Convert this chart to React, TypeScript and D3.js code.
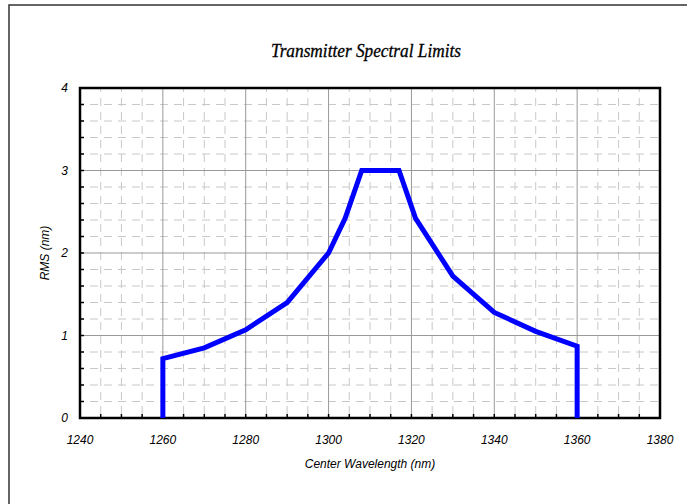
import React, { useRef, useEffect } from "react";
import { select, scaleLinear, line, range } from "d3";

// data
const wavelengths = [1260, 1260, 1270, 1280, 1290, 1300, 1304, 1308, 1317, 1321, 1330, 1340, 1350, 1360, 1360];
const rmsValues = [0, 0.72, 0.85, 1.07, 1.4, 2.0, 2.42, 3.0, 3.0, 2.42, 1.72, 1.28, 1.05, 0.87, 0];
const xTicks = [1240, 1260, 1280, 1300, 1320, 1340, 1360, 1380];
const yTicks = [0, 1, 2, 3, 4];

const W = 687;
const H = 504;
const margin = { top: 88, right: 27, bottom: 86, left: 80 };

const App: React.FC = () => {
  const svgRef = useRef<SVGSVGElement>(null);

  useEffect(() => {
    const svg = select(svgRef.current);
    svg.selectAll("*").remove();

    const innerW = W - margin.left - margin.right;
    const innerH = H - margin.top - margin.bottom;

    const x = scaleLinear().domain([1240, 1380]).range([0, innerW]);
    const y = scaleLinear().domain([0, 4]).range([innerH, 0]);

    // outer frame (cut off on right and bottom)
    svg
      .append("path")
      .attr("d", `M9,${H + 5} L9,5 L${W + 5},5`)
      .attr("fill", "none")
      .attr("stroke", "#333")
      .attr("stroke-width", 1.5);

    svg
      .append("text")
      .attr("x", 366)
      .attr("y", 57)
      .attr("text-anchor", "middle")
      .attr("font-family", "'Liberation Serif', serif")
      .attr("font-style", "italic")
      .attr("font-size", 18)
      .attr("stroke", "#000")
      .attr("stroke-width", 0.3)
      .attr("textLength", 190)
      .attr("lengthAdjust", "spacingAndGlyphs")
      .text("Transmitter Spectral Limits");

    const g = svg
      .append("g")
      .attr("transform", `translate(${margin.left},${margin.top})`);

    // minor grid
    const minorX = range(1245, 1380, 5).filter((v) => v % 20 !== 0);
    const minorY = range(0.2, 4, 0.2).filter((v) => Math.abs(v - Math.round(v)) > 0.01);
    g.selectAll(".mx")
      .data(minorX)
      .join("line")
      .attr("x1", (d) => x(d))
      .attr("x2", (d) => x(d))
      .attr("y1", 0)
      .attr("y2", innerH)
      .attr("stroke", "#c8c8c8")
      .attr("stroke-dasharray", "8,6")
      .attr("stroke-dashoffset", 4);
    g.selectAll(".my")
      .data(minorY)
      .join("line")
      .attr("y1", (d) => y(d))
      .attr("y2", (d) => y(d))
      .attr("x1", 0)
      .attr("x2", innerW)
      .attr("stroke", "#c8c8c8")
      .attr("stroke-dasharray", "8,6")
      .attr("stroke-dashoffset", 4);

    // major grid
    g.selectAll(".gx")
      .data(xTicks)
      .join("line")
      .attr("x1", (d) => x(d))
      .attr("x2", (d) => x(d))
      .attr("y1", 0)
      .attr("y2", innerH)
      .attr("stroke", "#999");
    g.selectAll(".gy")
      .data(yTicks)
      .join("line")
      .attr("y1", (d) => y(d))
      .attr("y2", (d) => y(d))
      .attr("x1", 0)
      .attr("x2", innerW)
      .attr("stroke", "#999");

    // inward ticks
    g.selectAll(".tx")
      .data(range(1240, 1381, 5))
      .join("line")
      .attr("x1", (d) => x(d))
      .attr("x2", (d) => x(d))
      .attr("y1", innerH)
      .attr("y2", innerH - 4)
      .attr("stroke", "#000")
      .attr("stroke-width", 1.5);
    g.selectAll(".ty")
      .data(range(0, 4.01, 0.2))
      .join("line")
      .attr("y1", (d) => y(d))
      .attr("y2", (d) => y(d))
      .attr("x1", 0)
      .attr("x2", 4)
      .attr("stroke", "#000")
      .attr("stroke-width", 1.5);

    // plot frame
    g.append("rect")
      .attr("width", innerW)
      .attr("height", innerH)
      .attr("fill", "none")
      .attr("stroke", "#000")
      .attr("stroke-width", 2.5);

    // tick labels
    g.selectAll(".lx")
      .data(xTicks)
      .join("text")
      .attr("x", (d) => x(d))
      .attr("y", innerH + 26)
      .attr("text-anchor", "middle")
      .attr("font-family", "'Liberation Sans', Arial, sans-serif")
      .attr("font-style", "italic")
      .attr("font-size", 12)
      .text((d) => d);
    g.selectAll(".ly")
      .data(yTicks)
      .join("text")
      .attr("x", -12)
      .attr("y", (d) => y(d) + 4)
      .attr("text-anchor", "end")
      .attr("font-family", "'Liberation Sans', Arial, sans-serif")
      .attr("font-style", "italic")
      .attr("font-size", 12)
      .text((d) => d);

    // axis titles
    g.append("text")
      .attr("x", innerW / 2)
      .attr("y", innerH + 50)
      .attr("text-anchor", "middle")
      .attr("font-family", "'Liberation Sans', Arial, sans-serif")
      .attr("font-style", "italic")
      .attr("font-size", 12)
      .text("Center Wavelength (nm)");
    g.append("text")
      .attr("transform", `translate(-31,${innerH / 2}) rotate(-90)`)
      .attr("text-anchor", "middle")
      .attr("font-family", "'Liberation Sans', Arial, sans-serif")
      .attr("font-style", "italic")
      .attr("font-size", 12)
      .text("RMS (nm)");

    // limit curve
    const pts = wavelengths.map((w, i) => [w, rmsValues[i]] as [number, number]);
    g.append("path")
      .datum(pts)
      .attr("fill", "none")
      .attr("stroke", "#0000ff")
      .attr("stroke-width", 5)
      .attr("stroke-linejoin", "miter")
      .attr("d", line<[number, number]>().x((d) => x(d[0])).y((d) => y(d[1])));
  }, []);

  return (
    <svg
      ref={svgRef}
      width={W}
      height={H}
      style={{ position: "absolute", left: 0, top: 0, background: "#fff" }}
    />
  );
};

export default App;
